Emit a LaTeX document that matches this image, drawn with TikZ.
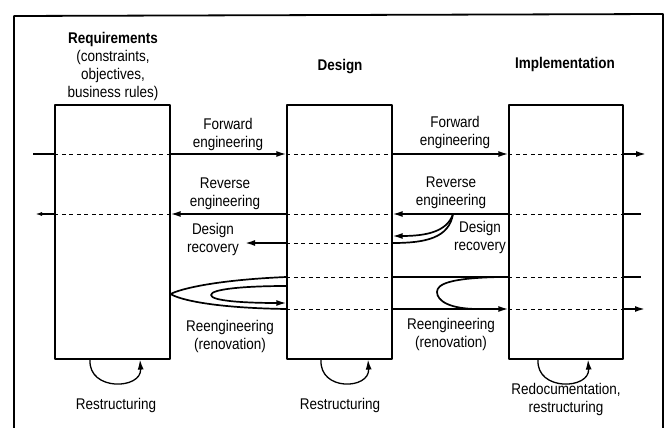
\documentclass[tikz,border=0pt]{standalone}
\usepackage{fontspec}
\setmainfont{Liberation Sans}[FakeStretch=0.87]
\usetikzlibrary{arrows.meta,positioning}
\begin{document}
\begin{tikzpicture}[x=1pt, y=-1pt, font=\fontsize{15.5}{18}\selectfont, line join=round, >={Latex[length=10pt,width=6pt]},
	stage/.style={draw, line width=1.2pt, minimum width=#1, minimum height=254pt, inner sep=0pt},
	flow/.style={line width=1.7pt},
	hidden/.style={line width=0.9pt, dash pattern=on 4pt off 3.5pt},
	lbl/.style={align=center, inner sep=0pt}]
	\useasboundingbox (0,0) rectangle (667,428);
	\draw[line width=1.8pt] (14,428) -- (14,16) -- (663,14) -- (663,428);
	
	\node[stage=115pt] (req) at (112.5,232) {};
	\node[stage=105pt] (des) at (339.5,232) {};
	\node[stage=114pt] (imp) at (566,232) {};
	
	% levels of the flows
	\coordinate (fwd) at (0,154);
	\coordinate (rev) at (0,214);
	\coordinate (drec) at (0,243);
	\coordinate (reup) at (0,277);
	\coordinate (relo) at (0,309);
	
	\foreach \b/\lv in {req/fwd, req/rev, des/fwd, des/rev, des/drec, des/reup, des/relo, imp/fwd, imp/rev, imp/reup, imp/relo}
	\draw[hidden] (\b.west |- \lv) -- (\b.east |- \lv);
	
	% forward engineering
	\coordinate (fwdin) at (33,154);
	\coordinate (fwdout) at (646,154);
	\draw[flow] (fwdin) -- (req.west |- fwd);
	\draw[flow,->] (req.east |- fwd) -- (des.west |- fwd);
	\draw[flow,->] (des.east |- fwd) -- (imp.west |- fwd);
	\draw[flow,->] (imp.east |- fwd) -- (fwdout);
	
	% reverse engineering
	\coordinate (revin) at (641,214);
	\coordinate (revout) at (35,214);
	\draw[flow] (revin) -- (imp.east |- rev);
	\draw[flow,->] (imp.west |- rev) -- (des.east |- rev);
	\draw[flow,->] (des.west |- rev) -- (req.east |- rev);
	\draw[flow,-{Latex[length=7pt,width=4pt]}] (req.west |- rev) -- (revout);
	
	% design recovery
	\coordinate (split) at (453,214);
	\coordinate (drecout) at (245,243);
	\draw[flow,->] (split) .. controls +(-6,18) and +(33,0) .. (des.east |- 0,236);
	\draw[flow] (split) .. controls +(-4,24) and +(33,0) .. (des.east |- drec);
	\draw[flow,->] (des.west |- drec) -- (drecout);
	
	% reengineering
	\draw[flow] (des.west |- reup) .. controls (215,280) and (180,289) .. (req.east |- 0,294) .. controls (180,300) and (215,308) .. (des.west |- relo);
	\draw[flow,->] (des.west |- 0,286) .. controls (245,286) and (211,289) .. (211,295) .. controls (211,301) and (245,303) .. (des.west |- 0,303);
	\coordinate (loopa) at (500,277);
	\coordinate (loopb) at (478,309);
	\draw[flow] (des.east |- reup) -- (imp.west |- reup);
	\draw[flow,->] (des.east |- relo) -- (imp.west |- relo);
	\draw[flow] (loopa) .. controls (450,278) and (437,284) .. (437,292) .. controls (437,301) and (450,309) .. (loopb);
	\coordinate (reupout) at (641,277);
	\coordinate (reloout) at (645,309);
	\draw[flow] (imp.east |- reup) -- (reupout);
	\draw[flow,->] (imp.east |- relo) -- (reloout);
	
	% restructuring loops
	\foreach \b/\s/\e in {req/90/140, des/321/368, imp/538/588}
	\draw[line width=1.3pt,->] (\b.south -| \s,0) .. controls +(-2,32) and +(2,30) .. (\b.south -| \e,0);
	
	\node[lbl] (reqt) at (113,66.5) {\textbf{Requirements}\\(constraints,\\objectives,\\business rules)};
	\node[lbl] (dest) at (340,67) {\textbf{Design}};
	\node[lbl] (impt) at (565,64) {\textbf{Implementation}};
	\node[lbl] (fwda) at (228,134) {Forward\\engineering};
	\node[lbl] (fwdb) at (455,132) {Forward\\engineering};
	\node[lbl] (reva) at (225,194) {Reverse\\engineering};
	\node[lbl] (revb) at (451,192.5) {Reverse\\engineering};
	\node[lbl] (dreca) at (213,239) {Design\\recovery};
	\node[lbl] (drecb) at (480,237.5) {Design\\recovery};
	\node[lbl] (rea) at (230,336) {Reengineering\\(renovation)};
	\node[lbl] (reb) at (451,334) {Reengineering\\(renovation)};
	\node[lbl] (resa) at (116,405) {Restructuring};
	\node[lbl] (resb) at (340,405) {Restructuring};
	\node[lbl] (resc) at (566,399) {Redocumentation,\\restructuring};
\end{tikzpicture}
\end{document}
